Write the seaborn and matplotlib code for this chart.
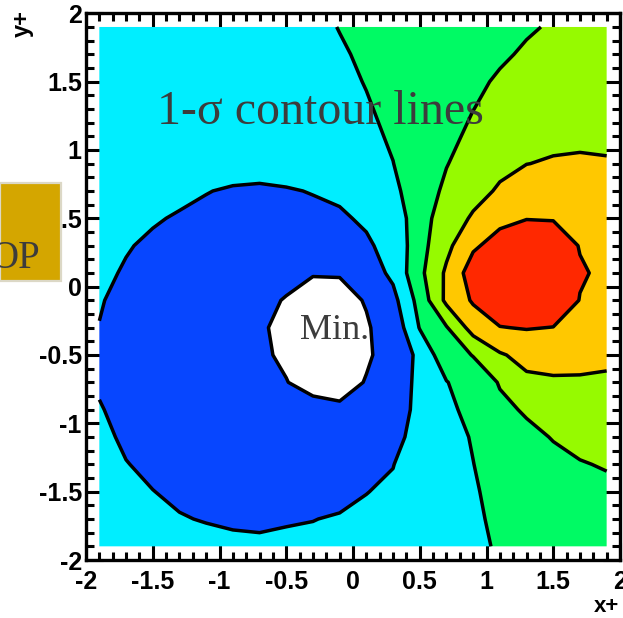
import numpy as np
import matplotlib
matplotlib.use("Agg")
import matplotlib.pyplot as plt
from matplotlib.patches import Rectangle
from matplotlib.ticker import MultipleLocator, FixedLocator, FuncFormatter
import seaborn as sns

# Bin centres of the 20 x 20 scan in (x+, y+)
x_centers = [-1.9, -1.7, -1.5, -1.3, -1.1, -0.9, -0.7, -0.5, -0.3, -0.1,
             0.1, 0.3, 0.5, 0.7, 0.9, 1.1, 1.3, 1.5, 1.7, 1.9]
y_centers = [1.9, 1.7, 1.5, 1.3, 1.1, 0.9, 0.7, 0.5, 0.3, 0.1,
             -0.1, -0.3, -0.5, -0.7, -0.9, -1.1, -1.3, -1.5, -1.7, -1.9]

# Significance (in sigma) per bin, one row per y centre, top row first
sigma_rows = [
    [2.70, 2.68, 2.66, 2.65, 2.65, 2.66, 2.69, 2.74, 2.84, 3.02, 3.15, 3.28, 3.41, 3.54, 3.67, 3.80, 3.93, 4.06, 4.18, 4.29],
    [2.67, 2.64, 2.62, 2.60, 2.60, 2.61, 2.63, 2.68, 2.78, 2.93, 3.10, 3.26, 3.42, 3.58, 3.74, 3.91, 4.08, 4.23, 4.36, 4.47],
    [2.63, 2.60, 2.57, 2.55, 2.54, 2.54, 2.56, 2.61, 2.70, 2.84, 3.03, 3.24, 3.45, 3.66, 3.87, 4.08, 4.26, 4.42, 4.55, 4.64],
    [2.58, 2.55, 2.52, 2.49, 2.47, 2.46, 2.48, 2.53, 2.62, 2.76, 2.94, 3.17, 3.42, 3.70, 3.99, 4.24, 4.44, 4.60, 4.72, 4.79],
    [2.52, 2.48, 2.45, 2.41, 2.38, 2.37, 2.39, 2.44, 2.53, 2.67, 2.85, 3.08, 3.38, 3.78, 4.18, 4.50, 4.72, 4.85, 4.90, 4.90],
    [2.44, 2.39, 2.34, 2.29, 2.26, 2.25, 2.26, 2.30, 2.39, 2.54, 2.75, 2.99, 3.40, 3.96, 4.45, 4.80, 4.99, 5.06, 5.07, 5.04],
    [2.33, 2.26, 2.18, 2.10, 2.02, 1.94, 1.90, 1.95, 2.03, 2.12, 2.35, 2.82, 3.45, 4.20, 4.72, 5.10, 5.38, 5.52, 5.52, 5.42],
    [2.22, 2.13, 2.04, 1.96, 1.87, 1.80, 1.77, 1.78, 1.83, 1.91, 2.10, 2.45, 3.55, 4.55, 5.10, 5.75, 5.97, 5.95, 5.82, 5.62],
    [2.12, 2.03, 1.93, 1.82, 1.72, 1.63, 1.56, 1.52, 1.50, 1.58, 1.90, 2.25, 3.65, 4.75, 5.85, 6.40, 6.65, 6.50, 5.96, 5.78],
    [2.09, 1.96, 1.80, 1.64, 1.48, 1.33, 1.20, 1.10, 1.03, 1.04, 1.45, 2.22, 3.76, 5.16, 6.50, 6.85, 7.05, 6.95, 6.08, 5.85],
    [2.03, 1.88, 1.70, 1.53, 1.37, 1.22, 1.08, 0.98, 0.80, 0.80, 1.04, 1.70, 3.36, 5.22, 6.11, 6.60, 6.85, 6.70, 5.97, 5.72],
    [1.99, 1.80, 1.62, 1.46, 1.32, 1.19, 1.06, 0.88, 0.68, 0.62, 0.94, 1.30, 3.05, 3.93, 5.41, 5.97, 6.05, 5.98, 5.60, 5.50],
    [1.92, 1.75, 1.58, 1.43, 1.30, 1.17, 1.05, 0.95, 0.70, 0.62, 0.93, 1.22, 2.26, 3.63, 4.03, 4.90, 5.30, 5.45, 5.40, 5.25],
    [1.93, 1.73, 1.56, 1.42, 1.30, 1.18, 1.08, 1.01, 0.88, 0.78, 1.03, 1.30, 2.30, 2.96, 3.55, 4.05, 4.80, 4.85, 4.85, 4.82],
    [2.04, 1.82, 1.63, 1.48, 1.35, 1.25, 1.17, 1.12, 1.12, 1.10, 1.14, 1.45, 2.30, 2.81, 3.25, 3.85, 4.07, 4.42, 4.50, 4.50],
    [2.15, 1.90, 1.73, 1.60, 1.50, 1.42, 1.36, 1.31, 1.27, 1.27, 1.38, 1.72, 2.35, 2.75, 3.05, 3.55, 3.85, 4.03, 4.20, 4.30],
    [2.28, 2.02, 1.88, 1.76, 1.67, 1.60, 1.55, 1.51, 1.49, 1.50, 1.62, 1.98, 2.45, 2.75, 2.99, 3.30, 3.60, 3.85, 3.96, 4.05],
    [2.40, 2.20, 2.01, 1.90, 1.83, 1.77, 1.73, 1.70, 1.69, 1.72, 1.985, 2.11, 2.50, 2.75, 2.95, 3.15, 3.45, 3.65, 3.78, 3.85],
    [2.50, 2.35, 2.18, 2.033, 1.97, 1.92, 1.90, 1.92, 1.98, 2.08, 2.135, 2.30, 2.55, 2.75, 2.92, 3.10, 3.35, 3.52, 3.65, 3.72],
    [2.60, 2.48, 2.35, 2.24, 2.17, 2.12, 2.10, 2.20, 2.20, 2.26, 2.35, 2.48, 2.62, 2.76, 2.90, 3.05, 3.25, 3.40, 3.50, 3.58],
]

# One-sigma steps drawn as lines, and the bands between them
line_levels = [1, 2, 3, 4, 5, 6]
band_levels = [0, 1, 2, 3, 4, 5, 6, 8]
band_colors = ["#FFFFFF", "#0746FF", "#00EEFF", "#00FA64", "#96FA00", "#FFC800", "#FF2800"]

major_ticks = [-2, -1.5, -1, -0.5, 0, 0.5, 1, 1.5, 2]

sns.set_theme(style="white")
plt.rcParams["font.family"] = ["Liberation Sans", "DejaVu Sans"]
plt.rcParams["axes.unicode_minus"] = False

W, H = 623, 618
fig = plt.figure(figsize=(W / 100, H / 100), dpi=100)
fig.patch.set_facecolor("white")
ax = fig.add_axes([86 / W, 1 - 560 / H, 534 / W, 546.7 / H])
ax.set_facecolor("white")

xs = np.array(x_centers)
ys = np.array(y_centers)[::-1]
Z = np.array(sigma_rows)[::-1]
X, Y = np.meshgrid(xs, ys)

palette = sns.color_palette(band_colors)
ax.contourf(X, Y, Z, levels=band_levels, colors=palette, antialiased=True)
ax.contour(X, Y, Z, levels=line_levels, colors="black", linewidths=2.5)

ax.set_xlim(-2, 2)
ax.set_ylim(-2, 2)

fmt = FuncFormatter(lambda v, p: "%g" % v)
for axis in (ax.xaxis, ax.yaxis):
    axis.set_major_locator(FixedLocator(major_ticks))
    axis.set_minor_locator(MultipleLocator(0.1))
    axis.set_major_formatter(fmt)

ax.tick_params(which="both", direction="in", top=True, right=True,
               bottom=True, left=True, width=2.2, color="black")
ax.tick_params(which="major", length=12)
ax.tick_params(which="minor", length=6)
ax.tick_params(axis="x", which="major", pad=7)
ax.tick_params(axis="y", which="major", pad=3)
for lab in ax.get_xticklabels() + ax.get_yticklabels():
    lab.set_fontsize(18)
    lab.set_fontweight("bold")
    lab.set_color("black")

for sp in ax.spines.values():
    sp.set_linewidth(2.4)
    sp.set_color("black")
    sp.set_visible(True)

# Axis titles at the ends of the axes
fig.text(22 / W, 1 - 10 / H, "y+", rotation=90, ha="center", va="top",
         fontsize=17, fontweight="bold", color="black")
fig.text(619 / W, 1 - 607 / H, "x+", ha="right", va="center",
         fontsize=16, fontweight="bold", color="black")

serif = ["Liberation Serif", "DejaVu Serif"]
ax.text(-1.467, 1.19, "1-\u03c3 contour lines", family=serif, fontsize=34.5,
        color="#3c3c3c", ha="left", va="baseline", zorder=5)
ax.text(-0.395, -0.383, "Min.", family=serif, fontsize=26,
        color="#3c3c3c", ha="left", va="baseline", zorder=5)

# Side label box
box = Rectangle((0, 1 - 281 / H), 61 / W, 98 / H, transform=fig.transFigure,
                facecolor="#D4A600", edgecolor="#DCD8C6", linewidth=1.6, zorder=10)
fig.add_artist(box)
fig.text(40 / W, 1 - 268 / H, "OP", family=serif, fontsize=28, color="#3c3c3c",
         ha="right", va="baseline", zorder=11)

fig.savefig("out.png", dpi=100)
